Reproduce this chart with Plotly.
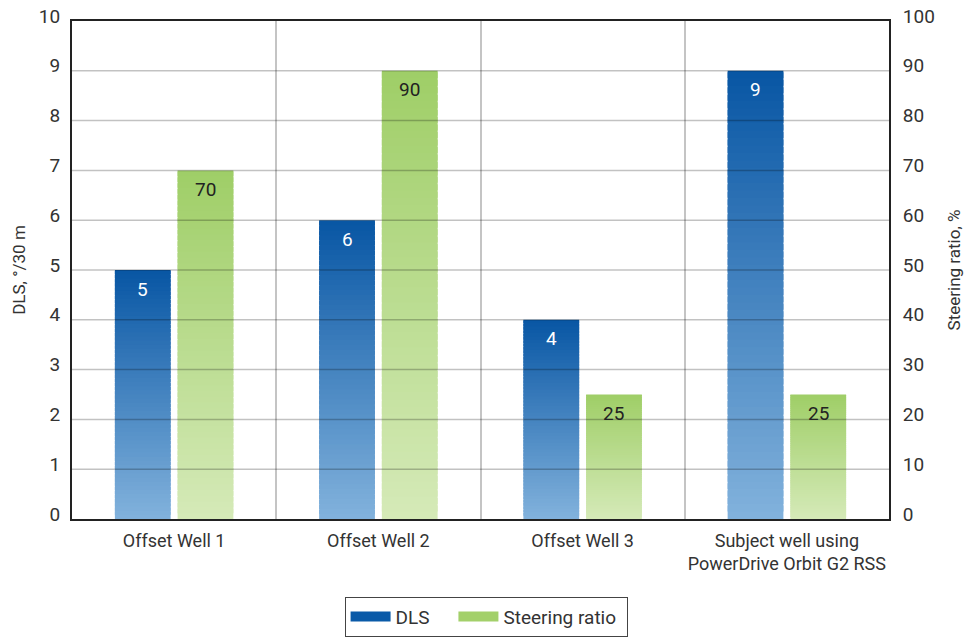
import plotly.graph_objects as go

categories = ["Offset Well 1", "Offset Well 2", "Offset Well 3",
              "Subject well using<br>PowerDrive Orbit G2 RSS"]
dls = [5, 6, 4, 9]
steering = [70, 90, 25, 25]
left_ticks = list(range(0, 11))
right_ticks = list(range(0, 101, 10))
series_names = ["DLS", "Steering ratio"]

FONT = "Roboto, Liberation Sans, sans-serif"
TXT = "#333333"
BLUE_TOP, BLUE_BOT = (8, 86, 164), (130, 178, 220)
GREEN_TOP, GREEN_BOT = (159, 206, 103), (213, 234, 184)
N = 60
W = 0.273
OFF_D, OFF_S = -0.29, 0.017
xs = list(range(len(categories)))


def mix(a, b, t):
    return "rgb(%d,%d,%d)" % tuple(round(a[i] + (b[i] - a[i]) * t) for i in range(3))


fig = go.Figure()
for vals, axis, top, bot, off in [(dls, "y", BLUE_TOP, BLUE_BOT, OFF_D),
                                  (steering, "y2", GREEN_TOP, GREEN_BOT, OFF_S)]:
    for k in range(N):
        t = (k + 0.5) / N
        h = 1.0 if k == N - 1 else 1.8
        fig.add_trace(go.Bar(
            x=xs, y=[v * h / N for v in vals], base=[v * k / N for v in vals],
            yaxis=axis, width=W, offset=off,
            marker=dict(color=mix(bot, top, t), line=dict(width=0)),
            showlegend=False, hoverinfo="skip"))

# legend entries
fig.add_trace(go.Scatter(x=[None], y=[None], mode="lines",
                         name=series_names[0] + "\u00a0" * 4,
                         line=dict(color="#0a5aa8", width=16)))
fig.add_trace(go.Scatter(x=[None], y=[None], mode="lines",
                         name=series_names[1] + "\u00a0",
                         line=dict(color="#a3d06a", width=16)))

annotations = []
for i, v in enumerate(dls):
    annotations.append(dict(x=i + OFF_D + W / 2, y=v, xref="x", yref="y", text=str(v),
                            showarrow=False, yanchor="middle", yshift=-19,
                            font=dict(family=FONT, size=19, color="white")))
for i, v in enumerate(steering):
    annotations.append(dict(x=i + OFF_S + W / 2, y=v, xref="x", yref="y2", text=str(v),
                            showarrow=False, yanchor="middle", yshift=-19,
                            font=dict(family=FONT, size=19, color="#222222")))

shapes = []
for t in left_ticks[1:-1]:
    shapes.append(dict(type="line", xref="paper", x0=0, x1=1, yref="y", y0=t, y1=t,
                       layer="above", line=dict(color="rgba(0,0,0,0.24)", width=1.5)))

fig.update_layout(
    width=980, height=638,
    margin=dict(l=72, r=91, t=21, b=119, autoexpand=False),
    paper_bgcolor="white", plot_bgcolor="white",
    barmode="overlay",
    font=dict(family=FONT, size=18, color=TXT),
    annotations=annotations, shapes=shapes,
    xaxis=dict(type="category", range=[-0.5, 3.5], tickvals=xs, ticktext=categories,
               tickson="boundaries", showgrid=True, gridcolor="#c4c4c4", gridwidth=1.5,
               showline=True, linecolor="#222222", linewidth=2, mirror=True,
               ticks="", tickangle=0, automargin=False, ticklabelstandoff=4,
               tickfont=dict(size=18, color=TXT)),
    yaxis=dict(range=[0, 10], tickvals=left_ticks, showgrid=False, zeroline=False,
               showline=True, linecolor="#222222", linewidth=2, mirror=True, ticks="",
               automargin=False, ticklabelshift=-5, ticklabelstandoff=6,
               tickfont=dict(size=19, color=TXT),
               title=dict(text="DLS, °/30 m", font=dict(size=17, color=TXT), standoff=9)),
    yaxis2=dict(range=[0, 100], tickvals=right_ticks, overlaying="y", side="right",
                showgrid=False, zeroline=False, showline=True, linecolor="#222222",
                linewidth=2, ticks="", automargin=False, ticklabelshift=-5,
                ticklabelstandoff=8, tickfont=dict(size=19, color=TXT),
                title=dict(text="Steering ratio, %", font=dict(size=17, color=TXT), standoff=14)),
    legend=dict(orientation="h", xref="container", x=0.496, xanchor="center",
                yref="container", y=0.002, yanchor="bottom",
                bordercolor="#444444", borderwidth=1, font=dict(size=19, color=TXT),
                itemwidth=40),
)

fig.write_html("out.html")
